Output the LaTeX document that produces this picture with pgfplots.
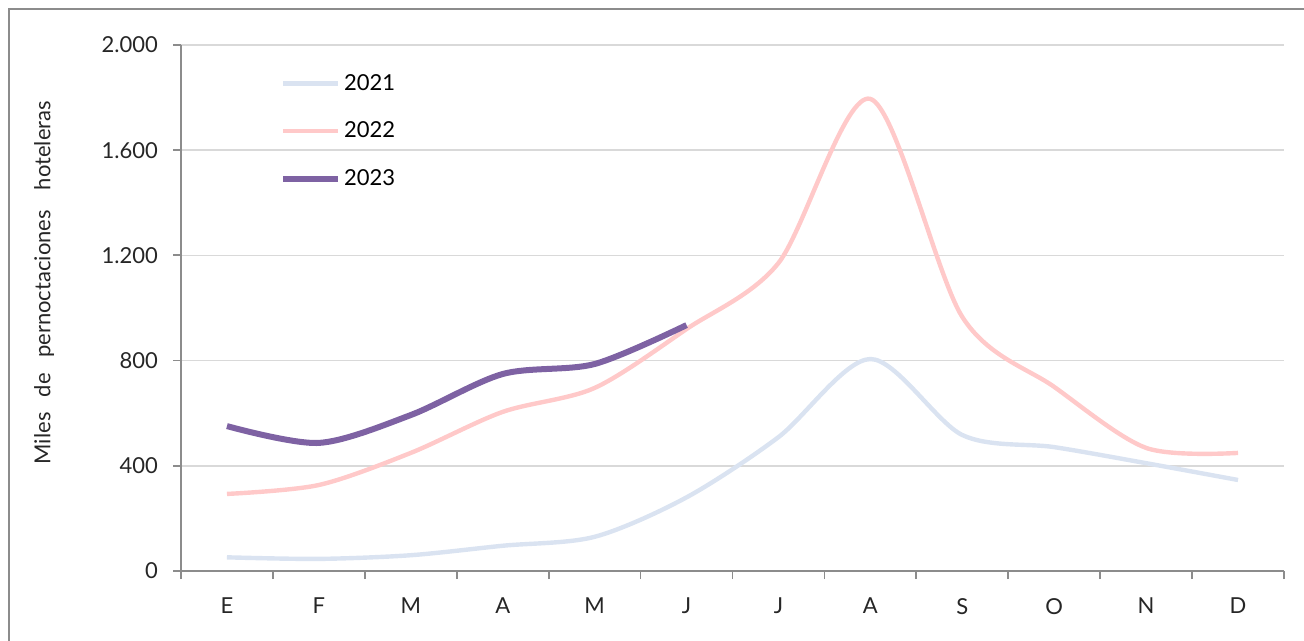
\documentclass[border=0pt]{standalone}
\usepackage{pgfplots}
\pgfplotsset{compat=1.18}
\usepackage{fontspec}
\setmainfont{Lato}
\definecolor{c21}{HTML}{DAE3F1}
\definecolor{c22}{HTML}{FFC9C9}
\definecolor{c23}{HTML}{7E62A3}
\definecolor{axgray}{HTML}{8C8C8C}
\definecolor{gridgray}{HTML}{D9D9D9}
\begin{document}
\begin{tikzpicture}
\path[use as bounding box] (0pt,0pt) rectangle (652pt,320.5pt);
\draw[axgray, line width=1pt] (4.5pt,0pt) -- (4.5pt,316pt) -- (652pt,316pt);
\begin{axis}[
  at={(90.5pt,35pt)}, anchor=south west,
  width=551.5pt, height=263pt, scale only axis,
  xmin=-0.5, xmax=11.5, ymin=0, ymax=2000,
  axis x line*=bottom, axis y line*=left,
  axis line style={axgray, line width=0.9pt},
  xtick={0,...,11},
  xticklabels={E,F,M,A,M,J,J,A,S,O,N,D},
  major x tick style={draw=none},
  minor xtick={-0.5,0.5,...,11.5},
  minor tick length=4pt,
  minor x tick style={axgray, line width=0.9pt},
  ytick={0,400,...,2000},
  major tick length=4pt,
  y tick style={axgray, line width=0.9pt},
  tick align=outside,
  ymajorgrids, major grid style={gridgray, line width=0.8pt},
  tick label style={font=\fontsize{11}{12}\selectfont, text=black!85},
  /pgf/number format/.cd, 1000 sep={.}, assume math mode=true,
  /pgfplots/.cd,
  xticklabel style={yshift=-6pt},
  yticklabel style={xshift=-4pt},
  ylabel={Miles\hspace{0.7em}de\hspace{0.7em}pernoctaciones\hspace{0.9em}hoteleras},
  ylabel style={font=\fontsize{11}{12}\selectfont, text=black!85, at={(axis description cs:-0.124,0.548)}, anchor=center},
  clip=false,
  legend style={at={(axis description cs:0.0895,0.951)}, anchor=north west, draw=none, fill=none,
    font=\fontsize{11}{12}\selectfont, row sep=11.3pt, inner sep=0pt, nodes={inner sep=1.5pt}},
  legend cell align=left,
  legend image code/.code={\draw[#1] (0pt,0pt) -- (27.5pt,0pt);},
]
\addplot[c21, line width=2.2pt, smooth, tension=0.5] coordinates {
(0,52) (1,46) (2,60) (3,96) (4,130) (5,280) (6,509) (7,806) (8,517) (9,471) (10,410) (11,346)};
\addlegendentry{2021}
\addplot[c22, line width=2.2pt, smooth, tension=0.5] coordinates {
(0,293) (1,327) (2,449) (3,605) (4,696) (5,920) (6,1171) (7,1795) (8,966) (9,700) (10,468) (11,449)};
\addlegendentry{2022}
\addplot[c23, line width=3pt, smooth, tension=0.5] coordinates {
(0,551) (1,487) (2,593) (3,749) (4,787) (5,935)};
\addlegendentry{2023}
\end{axis}
\end{tikzpicture}
\end{document}
